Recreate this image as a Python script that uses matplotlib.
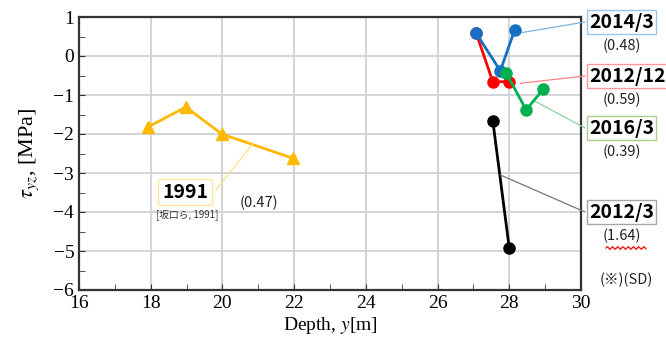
import numpy as np
import matplotlib
matplotlib.use("Agg")
import matplotlib.pyplot as plt
from matplotlib.ticker import MultipleLocator

plt.rcParams['font.family'] = ['Liberation Serif', 'DejaVu Serif']
plt.rcParams['mathtext.fontset'] = 'stix'

# data
x_1991 = [17.92, 18.98, 19.98, 21.96]
y_1991 = [-1.82, -1.31, -2.0, -2.62]
x_2012_12 = [27.08, 27.54, 27.99]
y_2012_12 = [0.58, -0.66, -0.66]
x_2014_3 = [27.08, 27.75, 28.15]
y_2014_3 = [0.58, -0.38, 0.67]
x_2016_3 = [27.91, 28.47, 28.95]
y_2016_3 = [-0.43, -1.38, -0.85]
x_2012_3 = [27.54, 28.0]
y_2012_3 = [-1.66, -4.93]

jp = ['Noto Sans CJK JP', 'DejaVu Sans']

fig = plt.figure(figsize=(6.66, 3.6), dpi=100)
ax = fig.add_axes([79/666, 1-290/360, (581-79)/666, (290-17)/360])

ax.plot(x_1991, y_1991, '-^', color='#FFB900', lw=2, ms=9, zorder=3)
ax.plot(x_2012_12, y_2012_12, '-o', color='#FF0000', lw=2, ms=8, zorder=3)
ax.plot(x_2014_3, y_2014_3, '-o', color='#1570C4', lw=2, ms=8, zorder=4)
ax.plot(x_2016_3, y_2016_3, '-o', color='#00B050', lw=2, ms=8, zorder=5)
ax.plot(x_2012_3, y_2012_3, '-o', color='black', lw=2, ms=8, zorder=3)

ax.set_xlim(16, 30)
ax.set_ylim(-6, 1)
ax.xaxis.set_major_locator(MultipleLocator(2))
ax.xaxis.set_minor_locator(MultipleLocator(1))
ax.yaxis.set_major_locator(MultipleLocator(1))
ax.yaxis.set_minor_locator(MultipleLocator(0.5))
ax.tick_params(which='both', direction='in', labelsize=14, color='#333333')
ax.tick_params(which='major', length=4)
ax.tick_params(which='minor', length=4)
ax.grid(True, which='major', color='#D4D4D4', lw=1.4)
ax.set_axisbelow(True)
for s in ax.spines.values():
    s.set_linewidth(1.6)
    s.set_color('#333333')
ax.set_yticks(range(-6, 2))
ax.set_yticklabels(['\u22126', '\u22125', '\u22124', '\u22123', '\u22122', '\u22121', '0', '1'])

ax.set_xlabel(r'Depth, $y$[m]', fontsize=14, labelpad=2)
ax.set_ylabel(r'$\tau_{yz}$, [MPa]', fontsize=16, labelpad=9)


def label(xy, txt_xy, txt, edge, sd, line_color):
    ax.annotate('', xy=xy, xytext=txt_xy, xycoords='data', textcoords='figure pixels',
                arrowprops=dict(arrowstyle='-', color=line_color, lw=0.9, shrinkA=0, shrinkB=0),
                annotation_clip=False)
    fig.text(txt_xy[0] + 4, txt_xy[1], txt, family=jp, fontsize=14, fontweight='bold',
             ha='left', va='center', transform=None,
             bbox=dict(boxstyle='square,pad=0.12', fc='white', ec=edge, lw=1.0))
    fig.text(txt_xy[0] + 37, txt_xy[1] - 24, sd, family=jp, fontsize=10.5,
             ha='center', va='center', color='#222222', transform=None)


label((28.35, 0.6), (585, 338), '2014/3', '#9DC3E6', '(0.48)', '#7FB2E0')
label((28.3, -0.7), (585, 284), '2012/12', '#FF9999', '(0.59)', '#FF8080')
label((28.7, -1.15), (585, 232), '2016/3', '#A9D18E', '(0.39)', '#8FD0A0')
label((27.75, -3.05), (585, 148), '2012/3', '#A6A6A6', '(1.64)', '#777777')

# wavy underline under (1.64)
wx = np.linspace(606, 646, 60)
fig.add_artist(plt.Line2D(wx / 666, (112 + 1.2 * np.sin((wx - 606) * 1.2)) / 360,
                          color='#FF0000', lw=0.9))

fig.text(626, 360 - 280, '(※)(SD)', family=jp, fontsize=10.5, ha='center', va='center',
         color='#222222', transform=None)

# 1991 label
ax.annotate('', xy=(20.85, -2.25), xytext=(216, 360 - 190), textcoords='figure pixels',
            arrowprops=dict(arrowstyle='-', color='#FFE08A', lw=0.9, shrinkA=0, shrinkB=0))
fig.text(185, 360 - 192, '1991', family=jp, fontsize=14, fontweight='bold', ha='center',
         va='center', transform=None,
         bbox=dict(boxstyle='square,pad=0.2', fc='white', ec='#FFE699', lw=1.0))
fig.text(187, 360 - 215, '[坂口ら, 1991]', family=jp, fontsize=7, ha='center',
         va='center', color='#333333', transform=None)
fig.text(259, 360 - 203, '(0.47)', family=jp, fontsize=10.5, ha='center', va='center',
         color='#222222', transform=None)

fig.savefig('out.png', dpi=100)
